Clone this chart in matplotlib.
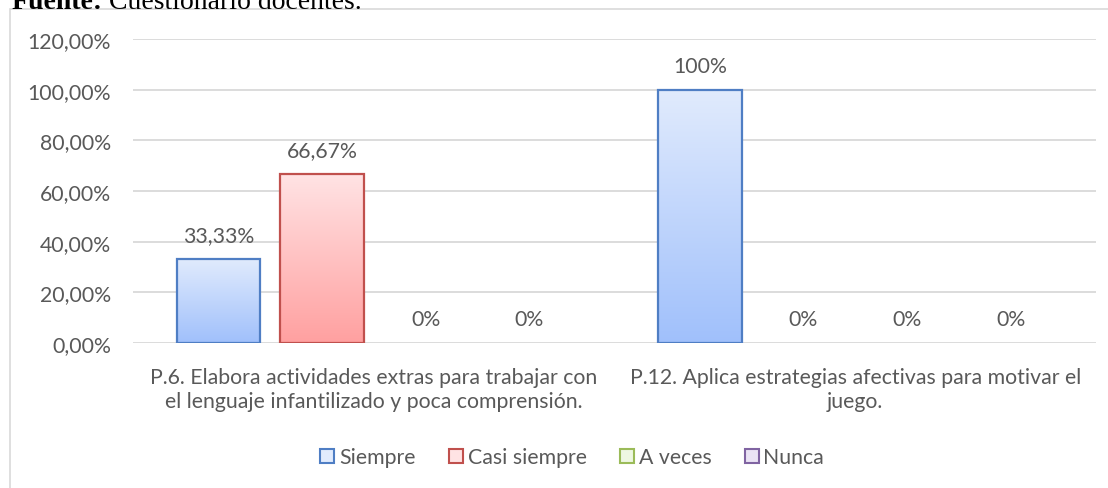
import numpy as np
import matplotlib
matplotlib.use("Agg")
import matplotlib.pyplot as plt
from matplotlib.patches import Rectangle
from matplotlib.lines import Line2D
from matplotlib.colors import LinearSegmentedColormap

categories = ["P.6. Elabora actividades extras para trabajar con\nel lenguaje infantilizado y poca comprensión.",
              "P.12. Aplica estrategias afectivas para motivar el\njuego."]
series = ["Siempre", "Casi siempre", "A veces", "Nunca"]
values = {
    "Siempre": [33.33, 100.0],
    "Casi siempre": [66.67, 0.0],
    "A veces": [0.0, 0.0],
    "Nunca": [0.0, 0.0],
}
labels = {
    "Siempre": ["33,33%", "100%"],
    "Casi siempre": ["66,67%", "0%"],
    "A veces": ["0%", "0%"],
    "Nunca": ["0%", "0%"],
}
yticks = [0, 20, 40, 60, 80, 100, 120]
yticklabels = ["0,00%", "20,00%", "40,00%", "60,00%", "80,00%", "100,00%", "120,00%"]

edge_colors = {"Siempre": "#4F7EC4", "Casi siempre": "#C0504D", "A veces": "#9BBB59", "Nunca": "#8064A2"}
grad = {"Siempre": ("#E1EBFD", "#A0C0FB"), "Casi siempre": ("#FFE3E4", "#FFA0A0"),
        "A veces": ("#EEF7E2", "#D4EBB8"), "Nunca": ("#EAE3F4", "#CFC2E6")}

text_color = "#595959"
font = "Lato"
fs = 15.3

fig = plt.figure(figsize=(11.08, 4.89), dpi=100)
W, H = 1108, 489
ax = fig.add_axes([133 / W, 1 - 344 / H, (1096 - 133) / W, (344 - 40) / H])

# outer chart border
fig.patches.append(Rectangle((10 / W, -0.1), 1.2, 1 - 10 / H + 0.1, transform=fig.transFigure,
                             fill=False, edgecolor="#D9D9D9", lw=1.2, zorder=0))

# caption (cut off at the top, as in the reference)
t1 = fig.text(12 / W, 1 - 9 / H, "Fuente:", family="Liberation Serif", weight="bold",
              fontsize=20, va="baseline", ha="left", color="black")
fig.canvas.draw()
ext = t1.get_window_extent()
fig.text((ext.x1 + 6) / W, 1 - 9 / H, "Cuestionario docentes.", family="Liberation Serif",
         fontsize=20, va="baseline", ha="left", color="black")

x = np.arange(len(categories))
slot = 0.215
bw = 0.174
for i, s in enumerate(series):
    offs = (i - 1.5) * slot
    cmap = LinearSegmentedColormap.from_list(s, [grad[s][1], grad[s][0]])
    for xi, v, lab in zip(x, values[s], labels[s]):
        cx = xi + offs
        if v > 0:
            b = ax.bar(cx, v, width=bw, facecolor="none", edgecolor=edge_colors[s],
                       lw=1.6, zorder=3)[0]
            gx0 = b.get_x()
            im = ax.imshow(np.linspace(0, 1, 256).reshape(-1, 1), cmap=cmap, origin="lower",
                           extent=(gx0, gx0 + b.get_width(), 0, v), aspect="auto", zorder=2)
            im.set_clip_path(b)
        ax.text(cx, v + 5.4, lab, ha="center", va="bottom",
                fontsize=fs, color=text_color, family=font)

ax.set_xlim(-0.5, 1.5)
ax.set_ylim(0, 120)
ax.set_yticks(yticks)
ax.set_yticklabels(yticklabels, family=font, fontsize=fs, color=text_color)
ax.set_xticks(x)
ax.set_xticklabels(categories, family=font, fontsize=fs, color=text_color, linespacing=1.3)
ax.tick_params(axis="y", length=0, pad=16)
ax.tick_params(axis="x", length=0, pad=17)
ax.grid(axis="y", color="#D9D9D9", lw=1.3, zorder=0)
ax.set_axisbelow(True)
for sp in ax.spines.values():
    sp.set_visible(False)

handles = [Line2D([], [], marker="s", linestyle="none", markersize=10.5,
                  markerfacecolor=grad[s][0], markeredgecolor=edge_colors[s], markeredgewidth=1.5)
           for s in series]
fig.legend(handles, series, loc="center", bbox_to_anchor=(571 / W, 1 - 458 / H), ncol=4,
           frameon=False, prop={"family": font, "size": fs}, labelcolor=text_color,
           handletextpad=0.1, columnspacing=1.45, handlelength=0.9)

fig.savefig("out.png", dpi=100)
